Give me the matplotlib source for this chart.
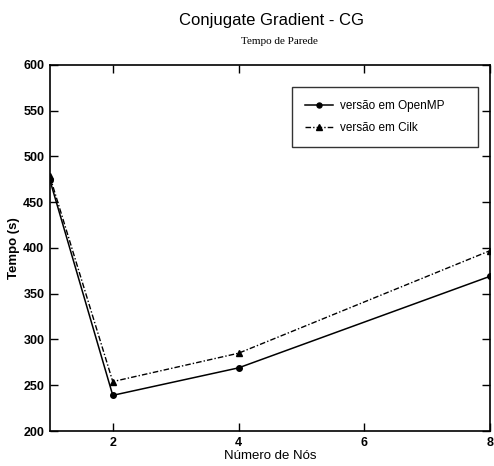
import matplotlib
matplotlib.use("Agg")
import matplotlib.pyplot as plt

nodes = [1, 2, 4, 8]
openmp = [474, 239, 269, 369]
cilk = [478, 254, 285, 397]
xticks = [2, 4, 6, 8]
yticks = [200, 250, 300, 350, 400, 450, 500, 550, 600]

plt.rcParams['font.family'] = ['Liberation Sans', 'DejaVu Sans']

fig = plt.figure(figsize=(4.94, 4.66), dpi=100)
ax = fig.add_axes([0.101, 0.075, 0.891, 0.786])

ax.plot(nodes, openmp, '-', color='black', lw=1.1, marker='o', ms=4,
        label='versão em OpenMP')
ax.plot(nodes, cilk, '-.', color='black', lw=1.0, marker='^', ms=5,
        dashes=(4, 1.5, 1, 1.5), label='versão em Cilk')

ax.set_xlim(1, 8)
ax.set_ylim(200, 600)
ax.set_xticks(xticks)
ax.set_yticks(yticks)
ax.tick_params(direction='in', length=6, width=1, top=True, right=True,
               labelsize=9, pad=4)
for lab in ax.get_xticklabels() + ax.get_yticklabels():
    lab.set_fontweight('bold')
for s in ax.spines.values():
    s.set_linewidth(1.2)

ax.set_xlabel('Número de Nós', fontsize=9.5, labelpad=1)
ax.set_ylabel('Tempo (s)', fontsize=9.5, labelpad=2, fontweight='bold')

fig.text(0.549, 0.957, 'Conjugate Gradient - CG', ha='center', va='center',
         fontsize=12)
fig.text(0.565, 0.911, 'Tempo de Parede', ha='center', va='center',
         fontsize=8, family='Liberation Serif')

leg = ax.legend(loc='upper left', bbox_to_anchor=(0.55, 0.776, 0.423, 0.164),
                mode='expand', fontsize=8.5, frameon=True, fancybox=False,
                edgecolor='black', handlelength=2.4, handletextpad=0.6,
                borderpad=1.1, labelspacing=0.85, markerscale=0.9,
                borderaxespad=0)
leg.get_frame().set_linewidth(1.0)

fig.savefig('out.png', dpi=100)
